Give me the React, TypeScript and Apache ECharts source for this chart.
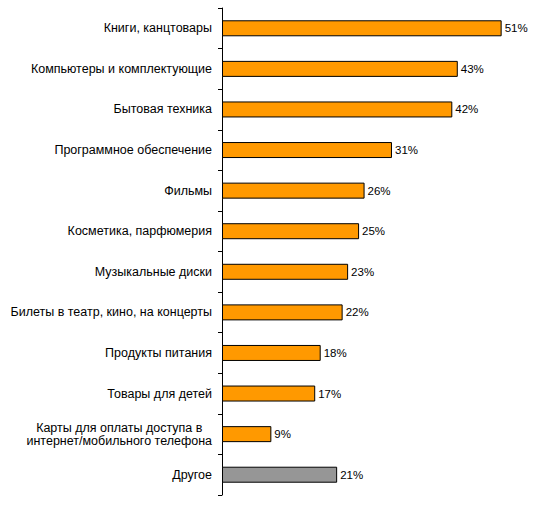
import { useEffect, useRef } from 'react';
import * as echarts from 'echarts';

const categories = [
  'Книги, канцтовары',
  'Компьютеры и комплектующие',
  'Бытовая техника',
  'Программное обеспечение',
  'Фильмы',
  'Косметика, парфюмерия',
  'Музыкальные диски',
  'Билеты в театр, кино, на концерты',
  'Продукты питания',
  'Товары для детей',
  'Карты для оплаты доступа в\nинтернет/мобильного телефона',
  'Другое',
];

const values = [51, 43, 42, 31, 26, 25, 23, 22, 18, 17, 9, 21];

const ORANGE = '#FF9900';
const GREY = '#969696';
const FONT = 'Arial, "Liberation Sans", sans-serif';

export default function App() {
  const chartRef = useRef<HTMLDivElement>(null);

  useEffect(() => {
    document.body.style.margin = '0';
    if (!chartRef.current) return;
    const chart = echarts.init(chartRef.current, null, { renderer: 'svg' });

    const option = {
      animation: false,
      backgroundColor: '#fff',
      grid: { left: 222, top: 8, width: 329, height: 487 },
      xAxis: {
        type: 'value',
        min: 0,
        max: 60,
        show: false,
      },
      yAxis: {
        type: 'category',
        inverse: true,
        data: categories,
        axisLine: { show: true, lineStyle: { color: '#000', width: 1 } },
        axisTick: { show: true, length: 4, lineStyle: { color: '#000' } },
        axisLabel: {
          interval: 0,
          margin: 10,
          color: '#000',
          fontFamily: FONT,
          fontSize: 12.5,
          lineHeight: 13,
          formatter: (v: string) =>
            v
              .split('\n')
              .map((l) => `{c|${l}}`)
              .join('\n'),
          rich: {
            c: {
              align: 'center',
              color: '#000',
              fontFamily: FONT,
              fontSize: 12.5,
              lineHeight: 13,
            },
          },
        },
      },
      series: [
        {
          type: 'bar',
          barWidth: 16,
          data: values.map((v, i) => ({
            value: v,
            itemStyle: { color: i === values.length - 1 ? GREY : ORANGE },
          })),
          itemStyle: { borderColor: '#000', borderWidth: 1 },
          label: {
            show: true,
            position: 'right',
            distance: 3,
            formatter: '{c}%',
            color: '#000',
            fontFamily: FONT,
            fontSize: 11.5,
          },
        },
      ],
    };

    chart.setOption(option);
    return () => {
      chart.dispose();
    };
  }, []);

  return <div ref={chartRef} style={{ width: 559, height: 505 }} />;
}
